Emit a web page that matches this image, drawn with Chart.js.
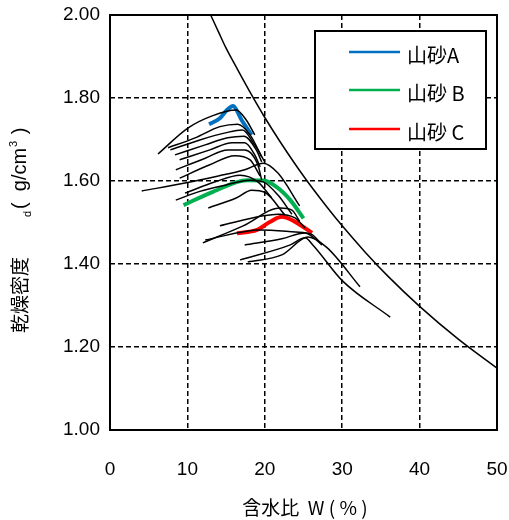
<!DOCTYPE html>
<html>
<head>
<meta charset="utf-8">
<script src="https://cdn.jsdelivr.net/npm/chart.js@4.4.1/dist/chart.umd.min.js"></script>
<style>
  body { margin: 0; background: #fff; }
  canvas { display: block; }
</style>
</head>
<body>
<canvas id="compaction" width="509" height="520"></canvas>
<script>
// axis ticks
const xTicks = [0, 10, 20, 30, 40, 50];
const yTicks = [1.00, 1.20, 1.40, 1.60, 1.80, 2.00];

// colored sands (water content %, dry density)
const sandA = [[12.8,1.737],[14.2,1.751],[15.1,1.771],[15.9,1.781],[17.0,1.747],[18.3,1.711]];
const sandB = [[9.5,1.542],[13.3,1.574],[17.7,1.602],[19.8,1.601],[21.5,1.586],[23.3,1.554],[25.0,1.510]];
const sandC = [[16.4,1.474],[19.0,1.482],[20.7,1.502],[22.2,1.514],[23.7,1.504],[26.1,1.475]];
const legendNames = ["山砂A", "山砂 B", "山砂 C"];

// zero air voids curve
const zeroAir = [[13,2.00],[14,1.96],[15,1.92],[16,1.885],[18,1.817],[20,1.753],[22,1.694],[25,1.612],[28,1.538],[30,1.492],[33,1.428],[36,1.369],[40,1.298],[45,1.219],[50,1.149]];

// other compaction curves (black)
const k1 = [[6.2,1.665],[10.1,1.728],[13.2,1.757],[16.3,1.771],[17.6,1.747],[18.7,1.711]];
const k2 = [[7.5,1.680],[11.0,1.704],[14.2,1.731],[16.5,1.737],[18.1,1.711],[19.6,1.658]];
const k3 = [[7.8,1.675],[11.6,1.699],[14.9,1.716],[17.1,1.723],[18.7,1.687],[20.0,1.646]];
const k4 = [[8.4,1.663],[12.3,1.687],[15.2,1.704],[17.3,1.708],[18.9,1.675],[19.6,1.646]];
const k5 = [[9.0,1.651],[12.9,1.675],[15.8,1.692],[17.4,1.692],[18.7,1.663],[19.4,1.634]];
const k6 = [[8.5,1.627],[12.3,1.655],[15.2,1.675],[17.4,1.675],[19.1,1.639],[19.6,1.602]];
const k7 = [[9.0,1.607],[12.9,1.639],[16.1,1.661],[18.1,1.651],[19.4,1.612]];
const m1 = [[4.1,1.576],[9.7,1.595],[14.0,1.612],[17.4,1.627],[19.8,1.643],[21.7,1.619],[24.5,1.540]];
const m2 = [[8.5,1.554],[11.6,1.575],[14.9,1.590],[18.1,1.602],[19.8,1.598],[21.7,1.566],[23.5,1.520]];
const m3 = [[9.7,1.571],[13.6,1.598],[16.8,1.614],[19.1,1.598],[20.9,1.559]];
const m4 = [[12.7,1.535],[16.3,1.559],[18.3,1.578],[20.0,1.573],[22.6,1.518]];
const l1 = [[12.0,1.451],[17.2,1.492],[22.0,1.535],[23.5,1.530],[24.5,1.503]];
const l2 = [[14.2,1.492],[19.8,1.516],[21.7,1.520],[23.9,1.511],[25.2,1.487]];
const l3 = [[12.3,1.458],[19.4,1.482],[24.0,1.477],[26.0,1.472],[27.4,1.446]];
const l4 = [[17.4,1.446],[22.2,1.461],[25.2,1.475],[27.4,1.446]];
const l5 = [[16.8,1.410],[23.3,1.446],[25.2,1.463],[26.2,1.446],[30.0,1.360],[36.2,1.272]];
const l6 = [[17.8,1.405],[22.2,1.422],[25.6,1.465],[28.0,1.440],[32.3,1.345]];

const blackCurves = [k1, k2, k3, k4, k5, k6, k7, m1, m2, m3, m4, l1, l2, l3, l4, l5, l6];

const numFont = "'Liberation Sans', Arial, sans-serif";
const jpFont = "'Noto Sans CJK JP', 'Liberation Sans', sans-serif";

function pts(arr) {
  return arr.map(p => ({x: p[0], y: p[1]}));
}

function curve(arr, color, width) {
  return {data: pts(arr), borderColor: color, borderWidth: width, showLine: true, pointRadius: 0, cubicInterpolationMode: "monotone"};
}

var datasets = [];
for (let i = 0; i < blackCurves.length; i++) {
  datasets.push(curve(blackCurves[i], "#000", 1.5));
}
datasets.push(curve(zeroAir, "#000", 1.5));
datasets.push(curve(sandA, "#0070C0", 4));
datasets.push(curve(sandB, "#00B050", 4));
datasets.push(curve(sandC, "#FF0000", 4));

// frame, legend box and axis titles
const extras = {
  id: "extras",
  afterDraw(chart) {
    const c = chart.ctx;
    const a = chart.chartArea;
    c.save();
    c.strokeStyle = "#000";
    c.lineWidth = 2;
    c.setLineDash([]);
    c.strokeRect(a.left, a.top, a.right - a.left, a.bottom - a.top);

    // legend box
    c.fillStyle = "#fff";
    c.fillRect(315, 31, 171, 118);
    c.strokeRect(315, 31, 171, 118);
    const rows = [52, 90, 129];
    const cols = ["#0070C0", "#00B050", "#FF0000"];
    for (let i = 0; i < rows.length; i++) {
      c.strokeStyle = cols[i];
      c.lineWidth = 2.5;
      c.beginPath();
      c.moveTo(349, rows[i]);
      c.lineTo(400, rows[i]);
      c.stroke();
      c.fillStyle = "#000";
      c.font = "20px " + jpFont;
      c.textAlign = "left";
      c.textBaseline = "middle";
      c.fillText(legendNames[i], 407, rows[i] + 3);
    }

    // x title
    c.fillStyle = "#000";
    c.font = "19px " + jpFont;
    c.textAlign = "center";
    c.textBaseline = "middle";
    c.fillText("含水比  W ( % )", 305, 508);

    // y title, rotated
    c.translate(20, 333);
    c.rotate(-Math.PI / 2);
    c.textAlign = "left";
    c.textBaseline = "middle";
    c.font = "19px " + jpFont;
    c.fillText("乾燥密度", 0, 0);
    c.font = "11px " + numFont;
    c.fillText("d", 116, 8);
    c.font = "20px " + numFont;
    c.fillText("(  g/cm", 124, 0);
    let w = c.measureText("(  g/cm").width;
    c.font = "11px " + numFont;
    c.fillText("3", 124 + w + 1, -6);
    c.font = "20px " + numFont;
    c.fillText(" )", 124 + w + 8, 0);
    c.restore();
  }
};

const ctx = document.getElementById("compaction").getContext("2d");
var chart = new Chart(ctx, {
  type: "scatter",
  data: {datasets: datasets},
  options: {
    responsive: false,
    animation: false,
    layout: {padding: {top: 15, right: 12, left: 0, bottom: 0}},
    plugins: {legend: {display: false}, tooltip: {enabled: false}},
    scales: {
      x: {
        type: "linear",
        min: xTicks[0],
        max: xTicks[xTicks.length - 1],
        afterFit: function(s) { s.height = 90; s.paddingLeft = 0; s.paddingRight = 0; },
        afterBuildTicks: function(s) { s.ticks = xTicks.map(v => ({value: v})); },
        border: {display: false, dash: [5, 3]},
        grid: {color: "#000", lineWidth: 1.5, drawTicks: false},
        ticks: {padding: 28, color: "#000", font: {family: numFont, size: 19}}
      },
      y: {
        type: "linear",
        min: yTicks[0],
        max: yTicks[yTicks.length - 1],
        afterFit: function(s) { s.width = 110; s.paddingTop = 0; s.paddingBottom = 0; },
        afterBuildTicks: function(s) { s.ticks = yTicks.map(v => ({value: v})); },
        border: {display: false, dash: [5, 3]},
        grid: {color: "#000", lineWidth: 1.5, drawTicks: false},
        ticks: {padding: 10, color: "#000", font: {family: numFont, size: 19},
          callback: function(value) { return value.toFixed(2); }}
      }
    }
  },
  plugins: [extras]
});
</script>
</body>
</html>
